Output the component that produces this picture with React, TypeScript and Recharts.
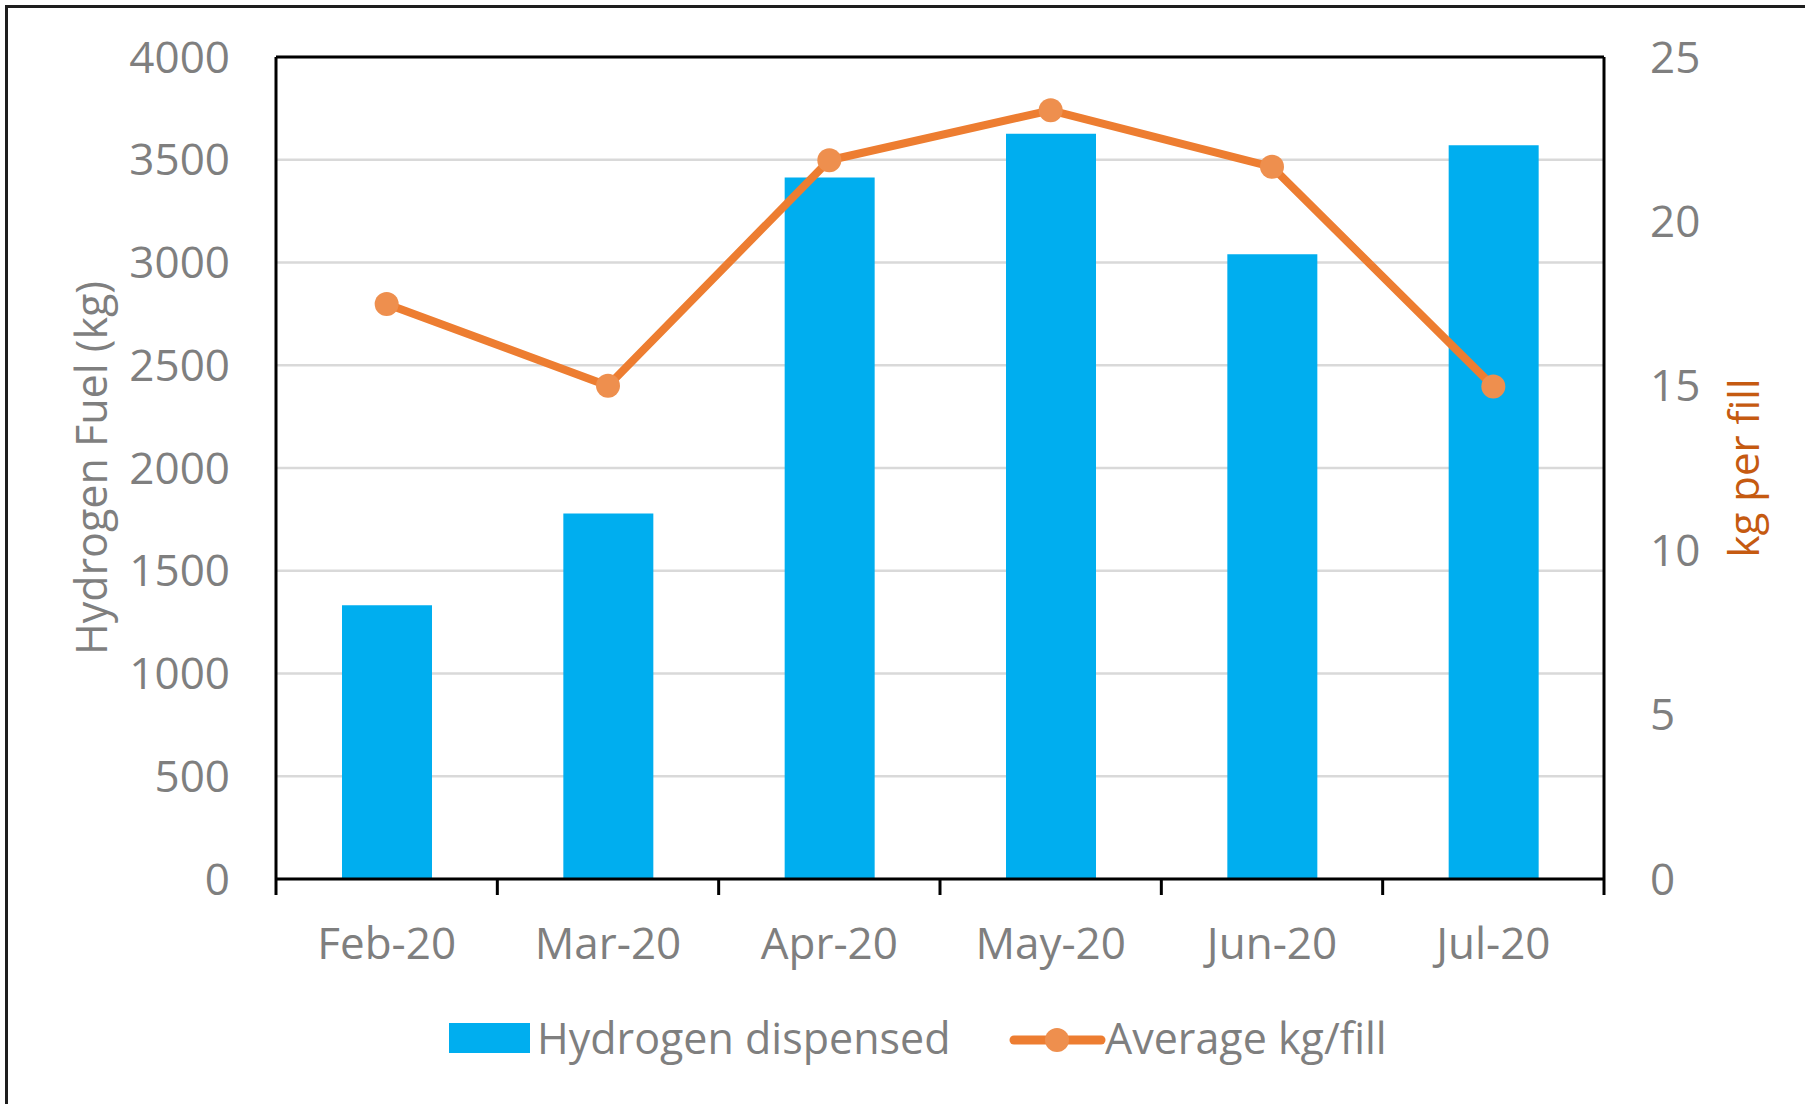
import React from "react";
import {
  ComposedChart,
  Bar,
  Line,
  XAxis,
  YAxis,
  CartesianGrid,
  ReferenceLine
} from "recharts";

const months = ["Feb-20", "Mar-20", "Apr-20", "May-20", "Jun-20", "Jul-20"];
const hydrogenDispensed = [1332, 1779, 3414, 3626, 3040, 3571];
const avgKgPerFill = [17.49, 15.0, 21.86, 23.38, 21.66, 14.98];
const leftTicks = [0, 500, 1000, 1500, 2000, 2500, 3000, 3500, 4000];
const rightTicks = [0, 5, 10, 15, 20, 25];

const data = months.map((month, i) => ({
  month,
  dispensed: hydrogenDispensed[i],
  avg: avgKgPerFill[i]
}));

const W = 1805;
const H = 1104;
const PLOT_LEFT = 276;
const PLOT_RIGHT = 1604;
const PLOT_TOP = 57;
const PLOT_BOTTOM = 879;
const BAND = (PLOT_RIGHT - PLOT_LEFT) / months.length;

const FONT = "'Open Sans', sans-serif";
const GRAY = "#7f7f7f";
const BLUE = "#00aeef";
const ORANGE = "#ed7d31";
const DOT = "#ee8f4e";

function MonthTick(props: any) {
  const { x, y, payload, index } = props;
  const half = BAND / 2;
  return (
    <g>
      <line x1={x - half} x2={x - half} y1={y} y2={y + 16} stroke="#000" strokeWidth={3} />
      {index === months.length - 1 && (
        <line x1={x + half} x2={x + half} y1={y} y2={y + 16} stroke="#000" strokeWidth={3} />
      )}
      <text
        x={x}
        y={y + 63}
        textAnchor="middle"
        dominantBaseline="central"
        fill={GRAY}
        fontSize={44}
        fontFamily={FONT}
      >
        {payload.value}
      </text>
    </g>
  );
}

export default function App() {
  return (
    <div
      style={{
        position: "absolute",
        left: 0,
        top: 0,
        width: W,
        height: H,
        overflow: "hidden",
        background: "#fff",
        fontFamily: FONT
      }}
    >
      {/* outer frame, runs off the right and bottom edges */}
      <div
        style={{
          position: "absolute",
          left: 5,
          top: 5,
          width: W + 100,
          height: H + 100,
          border: "3px solid #1e1e1e"
        }}
      />
      <ComposedChart
        width={W}
        height={H}
        data={data}
        margin={{ top: PLOT_TOP, right: 0, left: 0, bottom: 0 }}
        style={{ position: "absolute", left: 0, top: 0 }}
      >
        <CartesianGrid
          yAxisId="left"
          vertical={false}
          stroke="#d9d9d9"
          strokeWidth={2.5}
        />
        <XAxis
          dataKey="month"
          height={H - PLOT_BOTTOM}
          axisLine={{ stroke: "#000", strokeWidth: 3 }}
          tickLine={false}
          tickSize={0}
          tickMargin={0}
          interval={0}
          tick={<MonthTick />}
        />
        <YAxis
          yAxisId="left"
          width={PLOT_LEFT}
          domain={[0, 4000]}
          ticks={leftTicks}
          axisLine={{ stroke: "#000", strokeWidth: 3 }}
          tickLine={false}
          tickSize={0}
          tickMargin={46}
          tick={{ fill: GRAY, fontSize: 44, fontFamily: FONT }}
          label={{
            value: "Hydrogen Fuel (kg)",
            angle: -90,
            position: "center",
            dx: -46,
            fill: GRAY,
            fontSize: 43,
            fontFamily: FONT
          }}
        />
        <YAxis
          yAxisId="right"
          orientation="right"
          width={W - PLOT_RIGHT}
          domain={[0, 25]}
          ticks={rightTicks}
          axisLine={{ stroke: "#000", strokeWidth: 3 }}
          tickLine={false}
          tickSize={0}
          tickMargin={46}
          tick={{ fill: GRAY, fontSize: 44, fontFamily: FONT }}
          label={{
            value: "kg per fill",
            angle: -90,
            position: "center",
            dx: 40,
            fill: "#c55a11",
            fontSize: 42,
            fontFamily: FONT
          }}
        />
        <Bar
          yAxisId="left"
          dataKey="dispensed"
          name="Hydrogen dispensed"
          fill={BLUE}
          barSize={90}
          isAnimationActive={false}
        />
        <Line
          yAxisId="right"
          dataKey="avg"
          name="Average kg/fill"
          stroke={ORANGE}
          strokeWidth={8}
          dot={{ r: 12, fill: DOT, stroke: "none" }}
          activeDot={false}
          isAnimationActive={false}
        />
        <ReferenceLine yAxisId="left" y={4000} stroke="#000" strokeWidth={3} />
      </ComposedChart>

      {/* legend */}
      <div style={{ position: "absolute", left: 449, top: 1023, width: 81, height: 30, background: BLUE }} />
      <div
        style={{
          position: "absolute",
          left: 537,
          top: 1038,
          transform: "translateY(-50%)",
          color: GRAY,
          fontSize: 43,
          lineHeight: "50px",
          whiteSpace: "nowrap"
        }}
      >
        Hydrogen dispensed
      </div>
      <svg style={{ position: "absolute", left: 1009, top: 1024 }} width={98} height={32}>
        <line x1={5} x2={92} y1={16} y2={16} stroke={ORANGE} strokeWidth={9} strokeLinecap="round" />
        <circle cx={48} cy={16} r={12} fill={DOT} />
      </svg>
      <div
        style={{
          position: "absolute",
          left: 1105,
          top: 1038,
          transform: "translateY(-50%)",
          color: GRAY,
          fontSize: 43,
          lineHeight: "50px",
          whiteSpace: "nowrap"
        }}
      >
        Average kg/fill
      </div>
    </div>
  );
}
